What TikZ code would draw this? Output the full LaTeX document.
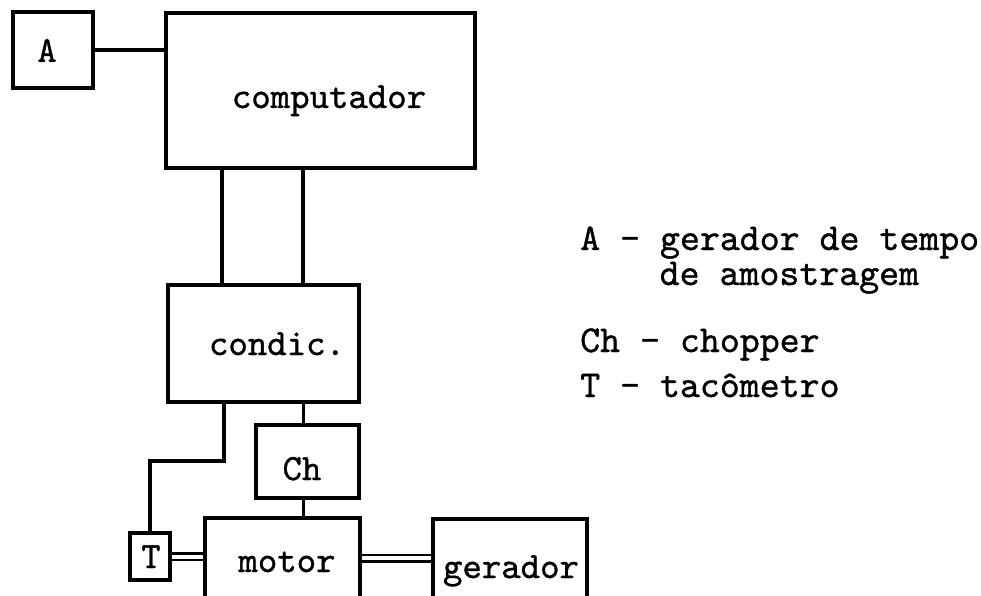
\documentclass[tikz,border=0pt]{standalone}
\usepackage{fontspec}
\newfontfamily\tw{lmmono10-regular.otf}[FakeBold=1]
\begin{document}
\begin{tikzpicture}[x=1pt,y=-1pt,
  box/.style={draw, line width=4pt, rectangle, inner sep=0pt},
  lbl/.style={inner sep=0pt, anchor=base, font=\tw\fontsize{37}{44}\selectfont},
  leg/.style={inner sep=0pt, anchor=base west, font=\tw\fontsize{38}{44}\selectfont},
  wire/.style={line width=3.8pt},
  dbl/.style={double, line width=2.5pt, double distance=4pt}]
\useasboundingbox (0,0) rectangle (981,596);
\fill[white] (0,0) rectangle (981,596);
\clip (0,0) rectangle (981,596);
% boxes
\node[box, minimum width=80pt, minimum height=76pt] (A) at (53,50) {};
\node[box, minimum width=309pt, minimum height=155pt] (comp) at (320.5,90.5) {};
\node[box, minimum width=191pt, minimum height=117pt] (cond) at (263.5,343.5) {};
\node[box, minimum width=103pt, minimum height=73pt] (ch) at (307.5,461.5) {};
\node[box, minimum width=155pt, minimum height=102pt] (mot) at (282.5,569) {};
\node[box, minimum width=40pt, minimum height=47pt] (T) at (150,556.5) {};
\node[box, minimum width=154pt, minimum height=102pt] (gen) at (510,570) {};
% labels
\node[lbl] (tA) at (47,62) {A};
\node[lbl] (tcomp) at (329,108) {computador};
\node[lbl] (tcond) at (277,355) {condic.};
\node[lbl] (tch) at (302,480) {Ch};
\node[lbl] (tmot) at (287,572) {motor};
\node[lbl] (tT) at (151,568) {T};
\node[lbl] (tgen) at (511,578) {gerador};
% connectors
\draw[wire] (A.east) -- (A.east -| comp.west);
\draw[wire] ([xshift=56pt]cond.north west) -- ([xshift=56pt]cond.north west |- comp.south);
\draw[wire] ([xshift=137pt]cond.north west) -- ([xshift=137pt]cond.north west |- comp.south);
\draw[wire] ([xshift=58pt]cond.south west) -- ++(0,57) -| (T.north);
\draw[wire] ([xshift=-4pt]ch.north) -- ([xshift=-4pt]ch.north |- cond.south);
\draw[wire] ([xshift=-4pt]ch.south) -- ([xshift=-4pt]ch.south |- mot.north);
\draw[dbl] (T.east) -- (T.east -| mot.west);
\draw[dbl] ([yshift=11pt]mot.east) -- ([yshift=11pt]mot.east -| gen.west);
% legend
\node[leg] (l1) at (580,250) {A - gerador de tempo};
\node[leg] (l2) at (659.5,285) {de amostragem};
\node[leg] (l3) at (580,352) {Ch - chopper};
\node[leg] (l4) at (580,397) {T - tacômetro};
\end{tikzpicture}
\end{document}
